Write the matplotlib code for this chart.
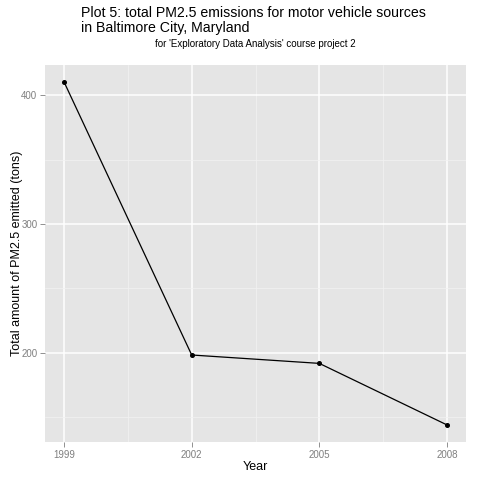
import matplotlib
matplotlib.use('Agg')
import matplotlib.pyplot as plt
from matplotlib.ticker import FixedLocator

plt.rcParams['font.family'] = ['Liberation Sans', 'DejaVu Sans']

# 數據
years = [1999, 2002, 2005, 2008]
emissions = [410.1, 198.4, 191.9, 144.2]
y_ticks = [200, 300, 400]
y_minor = [150, 250, 350]
x_minor = [2000.5, 2003.5, 2006.5]

fig = plt.figure(figsize=(4.8, 4.8), dpi=100)
ax = fig.add_axes([45 / 480, 1 - 442 / 480, 421 / 480, 377 / 480])
ax.set_facecolor('#E5E5E5')
for s in ax.spines.values():
    s.set_visible(False)

ax.plot(years, emissions, color='black', lw=0.9, marker='o', ms=2.6, zorder=3)

span = max(years) - min(years)
ax.set_xlim(min(years) - 0.05 * span, max(years) + 0.05 * span)
yspan = max(emissions) - min(emissions)
ax.set_ylim(min(emissions) - 0.05 * yspan, max(emissions) + 0.05 * yspan)

ax.set_xticks(years)
ax.set_xticklabels([str(y) for y in years])
ax.set_yticks(y_ticks)
ax.xaxis.set_minor_locator(FixedLocator(x_minor))
ax.yaxis.set_minor_locator(FixedLocator(y_minor))
ax.grid(which='major', color='white', lw=1.1)
ax.grid(which='minor', color='#F2F2F2', lw=0.5)
ax.set_axisbelow(True)
ax.tick_params(which='major', colors='#7F7F7F', labelsize=7, length=3.5, width=0.6, pad=2)
ax.tick_params(which='minor', length=0)

ax.set_xlabel('Year', fontsize=9, labelpad=1)
ax.set_ylabel('Total amount of PM2.5 emitted (tons)', fontsize=9, labelpad=0)
ax.yaxis.set_label_coords(-0.053, 0.5)

fig.text(81 / 480, 1 - 6 / 480, 'Plot 5: total PM2.5 emissions for motor vehicle sources\nin Baltimore City, Maryland',
         ha='left', va='top', fontsize=10.2, linespacing=1.05)
fig.text(255.5 / 480, 1 - 44 / 480, "for 'Exploratory Data Analysis' course project 2",
         ha='center', va='center', fontsize=7)

fig.savefig('out.png', dpi=100)
